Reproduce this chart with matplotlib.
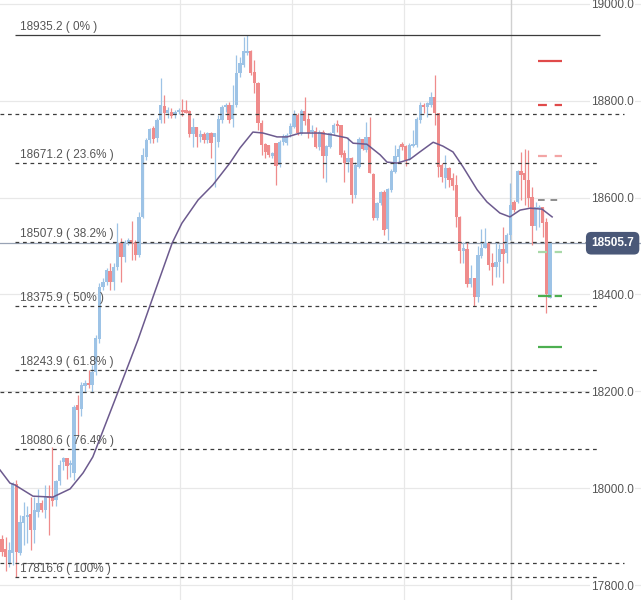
import numpy as np
import matplotlib
matplotlib.use("Agg")
import matplotlib.pyplot as plt
from matplotlib import transforms

plt.rcParams['font.family'] = ['Liberation Sans', 'DejaVu Sans']

# candles
opens = [17896, 17875, 17846, 17867, 18009, 17867, 17929, 17941, 17947, 17914,
         17951, 17970, 17955, 17984, 17982, 17976, 18015, 18054, 18063, 18048,
         18032, 18172, 18164, 18211, 18217, 18213, 18240, 18308, 18415, 18426,
         18448, 18426, 18457, 18506, 18477, 18506, 18512, 18508, 18481, 18560,
         18684, 18719, 18743, 18723, 18760, 18789, 18774, 18776, 18770, 18776,
         18781, 18781, 18778, 18731, 18745, 18725, 18731, 18719, 18733, 18725,
         18714, 18760, 18787, 18791, 18762, 18791, 18857, 18873, 18898, 18902,
         18859, 18836, 18754, 18710, 18708, 18686, 18712, 18667, 18714, 18712,
         18731, 18745, 18770, 18731, 18778, 18762, 18735, 18737, 18704, 18735,
         18686, 18704, 18733, 18752, 18750, 18692, 18673, 18681, 18605, 18663,
         18721, 18698, 18725, 18649, 18558, 18589, 18611, 18535, 18616, 18653,
         18684, 18710, 18706, 18679, 18706, 18708, 18760, 18791, 18787, 18791,
         18807, 18774, 18667, 18640, 18661, 18640, 18626, 18560, 18490, 18494,
         18422, 18434, 18395, 18479, 18496, 18506, 18465, 18457, 18467, 18494,
         18486, 18523, 18591, 18591, 18655, 18651, 18636, 18601, 18541, 18578,
         18580, 18549, 18393]
highs = [17904, 17900, 17889, 18013, 18017, 17945, 17972, 17964, 17982, 17982,
         17999, 17976, 18007, 18007, 18085, 18017, 18059, 18065, 18063, 18059,
         18172, 18193, 18220, 18224, 18244, 18254, 18316, 18424, 18434, 18455,
         18465, 18465, 18547, 18516, 18512, 18516, 18552, 18512, 18570, 18702,
         18723, 18743, 18748, 18764, 18847, 18811, 18787, 18785, 18781, 18785,
         18803, 18801, 18781, 18764, 18745, 18739, 18735, 18735, 18735, 18733,
         18770, 18791, 18795, 18797, 18832, 18894, 18890, 18931, 18935, 18904,
         18884, 18838, 18760, 18712, 18708, 18694, 18712, 18719, 18731, 18733,
         18754, 18781, 18774, 18783, 18807, 18774, 18750, 18745, 18739, 18739,
         18708, 18735, 18754, 18760, 18750, 18698, 18725, 18684, 18673, 18725,
         18721, 18756, 18766, 18651, 18591, 18613, 18616, 18620, 18659, 18708,
         18708, 18714, 18708, 18712, 18739, 18766, 18797, 18795, 18797, 18818,
         18853, 18774, 18671, 18688, 18663, 18651, 18646, 18562, 18508, 18508,
         18461, 18434, 18500, 18535, 18537, 18508, 18486, 18508, 18504, 18539,
         18527, 18630, 18595, 18657, 18694, 18700, 18698, 18622, 18591, 18585,
         18580, 18558, 18506]
lows = [17861, 17830, 17838, 17842, 17817, 17863, 17883, 17887, 17873, 17887,
        17941, 17951, 17939, 17904, 17964, 17964, 18007, 18038, 18019, 18023,
        18017, 18110, 18149, 18199, 18207, 18199, 18234, 18300, 18409, 18420,
        18409, 18409, 18450, 18426, 18467, 18502, 18471, 18471, 18477, 18558,
        18677, 18712, 18712, 18714, 18754, 18754, 18764, 18764, 18764, 18772,
        18768, 18774, 18725, 18704, 18704, 18714, 18712, 18712, 18681, 18622,
        18704, 18754, 18776, 18754, 18745, 18787, 18849, 18869, 18894, 18853,
        18816, 18739, 18688, 18681, 18684, 18681, 18626, 18663, 18708, 18708,
        18725, 18743, 18729, 18729, 18750, 18723, 18725, 18702, 18698, 18640,
        18632, 18702, 18729, 18735, 18684, 18632, 18653, 18589, 18599, 18661,
        18698, 18694, 18651, 18554, 18554, 18585, 18523, 18512, 18611, 18651,
        18671, 18698, 18665, 18677, 18704, 18704, 18754, 18774, 18766, 18787,
        18750, 18642, 18632, 18620, 18622, 18616, 18539, 18465, 18465, 18415,
        18415, 18376, 18385, 18475, 18496, 18450, 18420, 18436, 18436, 18424,
        18465, 18512, 18570, 18589, 18595, 18585, 18580, 18502, 18533, 18539,
        18519, 18362, 18393]
closes = [17869, 17858, 17873, 18011, 17869, 17931, 17943, 17945, 17914, 17955,
          17970, 17955, 17982, 17980, 17974, 18015, 18048, 18063, 18046, 18052,
          18168, 18162, 18213, 18217, 18213, 18240, 18310, 18415, 18426, 18450,
          18426, 18457, 18506, 18477, 18508, 18512, 18506, 18481, 18560, 18688,
          18719, 18741, 18721, 18760, 18791, 18774, 18781, 18768, 18776, 18781,
          18776, 18774, 18731, 18745, 18725, 18731, 18719, 18733, 18712, 18733,
          18762, 18787, 18791, 18760, 18791, 18857, 18877, 18902, 18902, 18857,
          18836, 18754, 18708, 18694, 18688, 18692, 18665, 18714, 18727, 18729,
          18748, 18772, 18733, 18778, 18758, 18733, 18739, 18704, 18735, 18686,
          18706, 18733, 18750, 18748, 18688, 18671, 18681, 18605, 18667, 18721,
          18700, 18725, 18651, 18558, 18589, 18611, 18533, 18618, 18655, 18686,
          18700, 18704, 18677, 18708, 18710, 18762, 18791, 18787, 18795, 18807,
          18774, 18663, 18642, 18661, 18636, 18624, 18560, 18490, 18496, 18422,
          18434, 18395, 18481, 18496, 18506, 18461, 18457, 18467, 18494, 18483,
          18523, 18585, 18574, 18655, 18646, 18636, 18599, 18541, 18580, 18580,
          18547, 18401, 18505.7]

# moving average, read at a few bar positions
ma_x = [-0.55, 2.2, 3.6, 8.6, 14.1, 18.9, 22.5, 25.2, 31.3, 37.7, 41.9, 47.2,
        49.9, 54.4, 58.5, 63.2, 66.0, 69.6, 72.4, 76.3, 79.1, 82.7, 88.2, 91.8,
        95.7, 97.4, 101.2, 104.9, 106.8, 109.6, 113.2, 115.9, 119.6, 122.3,
        125.1, 127.9, 131.8, 134.5, 138.1, 140.9, 143.7, 146.5, 149.8, 152.6]
ma_y = [18038, 18011, 18007, 17984, 17982, 17999, 18032, 18065, 18182, 18306,
        18395, 18506, 18547, 18595, 18626, 18671, 18702, 18735, 18733, 18725,
        18725, 18733, 18733, 18729, 18723, 18712, 18710, 18688, 18673, 18671,
        18679, 18694, 18714, 18706, 18694, 18663, 18616, 18591, 18568, 18560,
        18574, 18578, 18576, 18560]

fib_levels = [18935.2, 18671.2, 18507.9, 18375.9, 18243.9, 18080.6, 17816.6]
fib_pcts = ['0%', '23.6%', '38.2%', '50%', '61.8%', '76.4%', '100%']
extra_levels = [18772, 18199, 17846]
pivot_levels = [18881.6, 18790.8, 18685.6, 18594.9, 18487.6, 18396.8, 18291.6]
price_ticks = [19000, 18800, 18600, 18400, 18200, 18000, 17800]
vgrid = [49.4, 80.4, 111.5]
now_x = 141.2

UP = '#9dc3e6'
DOWN = '#ef8b8b'

fig = plt.figure(figsize=(6.41, 6.0), dpi=100)
ax = fig.add_axes([0, 0, 1, 1])
ax.set_xlim(-0.55, 177.25)
ax.set_ylim(17769.8, 19007.4)
ax.axis('off')

# grid
for p in price_ticks:
    ax.axhline(p, color='#e8e8e8', lw=0.9, zorder=0)
for x in vgrid:
    ax.axvline(x, color='#e8e8e8', lw=0.9, zorder=0)
ax.axvline(now_x, color='#d0d0d0', lw=1.0, zorder=0)

# candles
o = np.array(opens, float)
h = np.array(highs, float)
l = np.array(lows, float)
c = np.array(closes, float)
idx = np.arange(len(o))
cols = np.where(c >= o, UP, DOWN)
ax.vlines(idx, l, h, colors=cols, lw=0.9, zorder=2)
body_h = np.maximum(np.abs(c - o), 2.0)
ax.bar(idx, body_h, bottom=np.minimum(o, c), width=0.92, color=cols, lw=0, zorder=3)

ax.plot(ma_x, ma_y, color='#6c5a8e', lw=1.1, zorder=4)

# last price line
last = closes[-1]
ax.axhline(last, color='#98a3b5', lw=0.9, zorder=1)

# fibonacci
x0, x1 = 3.6, 165.9
for i, (lvl, pct) in enumerate(zip(fib_levels, fib_pcts)):
    if i == 0:
        ax.hlines(lvl, x0, x1, color='#3c3c3c', lw=0.9, zorder=5)
    else:
        ax.hlines(lvl, x0, x1, color='#3c3c3c', lw=0.9, linestyles=(0, (3, 3)), zorder=5)
    ax.annotate(f"{lvl:.1f} ( {pct} )", xy=(x0, lvl), xytext=(3.5, 1.5),
                textcoords='offset points', fontsize=8.5, color='#555555',
                va='bottom', ha='left', zorder=6)

for lvl in extra_levels:
    ax.hlines(lvl, -0.55, 172.5, color='#3c3c3c', lw=0.9, linestyles=(0, (3, 3)), zorder=5)

# pivot markers
piv_styles = [('#e04a4a', '-', 1.6), ('#e04a4a', (0, (4, 3.5)), 1.6),
              ('#f3a5a5', (0, (4, 3.5)), 1.6), ('#7a7a7a', (0, (4, 3.5)), 1.2),
              ('#a9d9a9', (0, (4, 3.5)), 1.6), ('#4caf50', (0, (6, 1.5)), 1.6),
              ('#4caf50', '-', 1.6)]
for lvl, (col, ls, lw) in zip(pivot_levels, piv_styles):
    ax.hlines(lvl, 148.7, 155.3, color=col, linestyles=ls, lw=lw, zorder=6)

# price labels on the right
tr = transforms.blended_transform_factory(ax.transAxes, ax.transData)
for p in price_ticks:
    ax.annotate(f"{p:.1f}", xy=(634 / 641, p), xycoords=tr, xytext=(0, -1.3),
                textcoords='offset points', ha='right', va='center',
                fontsize=8.5, color='#555555', zorder=7,
                bbox=dict(fc='white', ec='none', pad=1.0))

ax.text(634 / 641, last, f"{last:.1f}", transform=tr, ha='right', va='center',
        fontsize=8.5, color='white', fontweight='bold', zorder=8,
        bbox=dict(boxstyle='round,pad=0.45', fc='#4a5878', ec='none'))

fig.savefig('out.png', dpi=100)
